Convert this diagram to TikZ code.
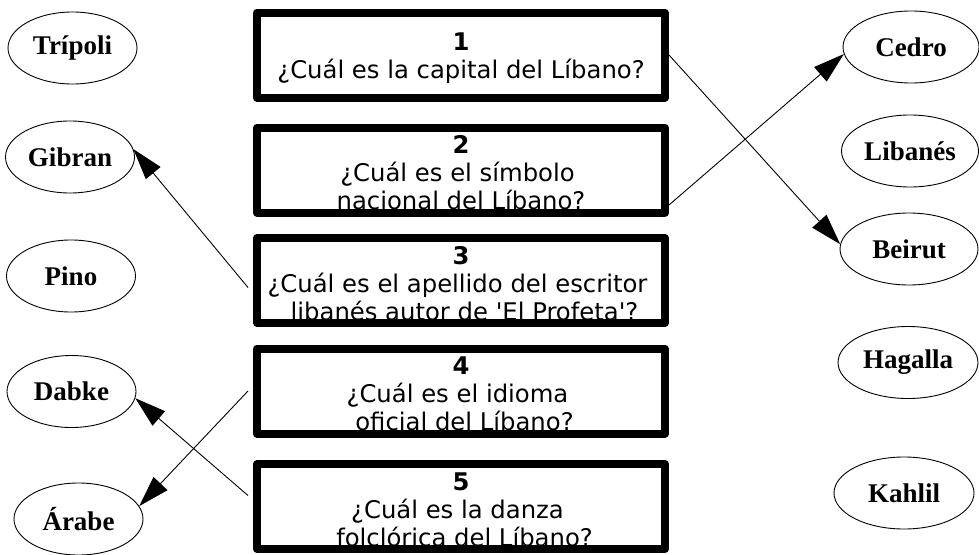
\documentclass[tikz,border=0pt]{standalone}
\usepackage{fontspec}
\newfontfamily\qfont{DejaVu Sans}
\newfontfamily\efont{Liberation Serif}
\usetikzlibrary{shapes.geometric,arrows.meta,calc}
\tikzset{
  qbox/.style={draw=black, line width=8pt, line join=round, minimum width=408pt, minimum height=85pt, inner sep=0pt},
  qtext/.style={font=\qfont\fontsize{24.3}{28}\selectfont, align=center, inner sep=0pt},
  ans/.style={draw=black, line width=0.9pt, ellipse, inner sep=0pt, minimum width=129pt, minimum height=72pt, font=\efont\bfseries\fontsize{27}{30}\selectfont},
  conn/.style={draw=black, line width=0.9pt, -{Triangle[length=31pt,width=19pt]}},
}
\newcommand{\qpad}{\hbox to 7pt{}}
\begin{document}
\begin{tikzpicture}[x=1pt,y=-1pt]
\useasboundingbox (0,0) rectangle (979,554);
% answers left
\node[ans] (tripoli) at (72.5,48) {Trípoli};
\node[ans] (gibran) at (70,157) {Gibran};
\node[ans] (pino) at (71,276) {Pino};
\node[ans] (dabke) at (71.5,391.5) {Dabke};
\node[ans] (arabe) at (78.5,519) {Árabe};
% answers right
\node[ans, minimum width=136pt] (cedro) at (911,47) {Cedro};
\node[ans, minimum width=137pt] (libanes) at (910,151) {Libanés};
\node[ans, minimum width=138pt] (beirut) at (909,249) {Beirut};
\node[ans, minimum width=140pt] (hagalla) at (908,362.5) {Hagalla};
\node[ans, minimum width=140pt] (kahlil) at (904,493) {Kahlil};
% question texts
\node[qtext] (t1) at (461,58) {{\bfseries 1}\\¿Cuál es la capital del Líbano?};
\node[qtext] (t2) at (461,173) {{\bfseries 2}\\¿Cuál es el símbolo\qpad\\nacional del Líbano?};
\node[qtext] (t3) at (461,283.5) {{\bfseries 3}\\¿Cuál es el apellido del escritor\qpad\\\qpad libanés autor de 'El Profeta'?};
\node[qtext] (t4) at (461,394) {{\bfseries 4}\\¿Cuál es el idioma\qpad\\\qpad oficial del Líbano?};
\node[qtext] (t5) at (461,509.5) {{\bfseries 5}\\¿Cuál es la danza\qpad\\\qpad folclórica del Líbano?};
% question boxes (drawn over the text)
\node[qbox] (q1) at (461,55) {};
\node[qbox] (q2) at (461,170) {};
\node[qbox] (q3) at (461,280.5) {};
\node[qbox] (q4) at (461,391) {};
\node[qbox] (q5) at (461,506.5) {};
% connectors
\draw[conn] (q1.east) -- (beirut.176);
\draw[conn] ($(q2.east)+(0,35)$) -- (cedro.186);
\draw[conn] ($(q3.west)+(-5,7)$) -- (gibran.7);
\draw[conn] ($(q4.west)+(-5,0)$) -- (arabe.12);
\draw[conn] ($(q5.west)+(-5,-11)$) -- (dabke.354);
\end{tikzpicture}
\end{document}
